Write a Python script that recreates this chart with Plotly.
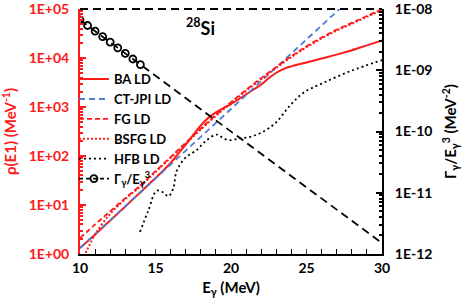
import plotly.graph_objects as go

# ---------------- data ----------------
E_BA = [10, 11, 12, 13, 14, 15, 15.5, 16, 16.5, 17, 17.5, 18, 18.5, 19, 19.5, 20, 21, 22, 22.5, 23, 23.5, 24, 25, 26, 27, 28, 29, 30]
rho_BA = [1.32, 2.5, 4.8, 9.3, 18.2, 35.5, 50, 72, 110, 170, 270, 420, 600, 780, 950, 1150, 1820, 2880, 3890, 5010, 6030, 6760, 8130, 9770, 11750, 14450, 18200, 22900]

E_CT = [10, 30]
rho_CT = [1.32, 6.3e5]

E_FG = [10, 11, 12, 13, 14, 15, 16, 17, 18, 19, 20, 21, 22, 23, 24, 25, 26, 27, 28, 29, 30]
rho_FG = [2.1, 4.0, 7.4, 13.8, 25, 49, 95, 186, 363, 692, 1260, 2240, 3890, 6610, 10960, 17380, 26300, 38020, 52480, 72440, 100000]

E_BSFG = [10, 10.5, 11, 12, 13, 14, 15, 16, 17, 18, 19, 20, 21, 22, 23, 24, 25, 26, 27, 28, 29, 30]
rho_BSFG = [0.63, 1.26, 2.5, 6.6, 13.2, 24, 47, 91, 178, 347, 660, 1200, 2140, 3720, 6310, 10470, 16600, 25120, 36310, 50120, 69180, 95500]

E_HFB = [13.97, 14.52, 15.08, 15.52, 15.85, 16.18, 16.4, 16.95, 17.72, 18.39, 19.05, 19.5, 19.93, 20.6, 21.26, 22.1, 23.0, 23.9, 24.8, 26.1, 27.9, 30.0]
rho_HFB = [2.8, 7.6, 19.5, 18, 15, 22, 49, 90, 132, 210, 274, 230, 210, 230, 245, 310, 490, 1070, 1960, 3100, 5400, 9100]

E_gam = [10, 10.5, 11, 11.5, 12, 12.5, 13, 13.5, 14]
gam_E3 = [6.65e-9, 5.40e-9, 4.38e-9, 3.55e-9, 2.88e-9, 2.33e-9, 1.89e-9, 1.53e-9, 1.24e-9]

E_fit = [10, 30]
fit_E3 = [6.65e-9, 1.5e-12]

x_ticks = [10, 15, 20, 25, 30]
left_ticks = [1, 10, 100, 1000, 10000, 100000]
left_labels = ["1E+00", "1E+01", "1E+02", "1E+03", "1E+04", "1E+05"]
right_ticks = [1e-12, 1e-11, 1e-10, 1e-9, 1e-8]
right_labels = ["1E-12", "1E-11", "1E-10", "1E-09", "1E-08"]

RED = "#ff1a1a"
BLUE = "#4a7fd4"
FONT = "Lato"
EPS = 2e-3

fig = go.Figure()

fig.add_trace(go.Scatter(x=E_BA, y=rho_BA, mode="lines", name="<b>BA LD</b>",
                         line=dict(color=RED, width=2), line_shape="spline"))
fig.add_trace(go.Scatter(x=E_CT, y=rho_CT, mode="lines", name="<b>CT-JPI LD</b>",
                         line=dict(color=BLUE, width=1.8, dash="6px,4px")))
fig.add_trace(go.Scatter(x=E_FG, y=rho_FG, mode="lines", name="<b>FG LD</b>",
                         line=dict(color=RED, width=1.8, dash="5px,3px"), line_shape="spline"))
fig.add_trace(go.Scatter(x=E_BSFG, y=rho_BSFG, mode="lines", name="<b>BSFG LD</b>",
                         line=dict(color=RED, width=2, dash="2px,2px"), line_shape="spline"))
fig.add_trace(go.Scatter(x=E_HFB, y=rho_HFB, mode="lines", name="<b>HFB LD</b>",
                         line=dict(color="black", width=1.8, dash="2px,3px"), line_shape="spline"))
# legend entry for Gamma/E^3
fig.add_trace(go.Scatter(x=[None], y=[None], mode="lines+markers", yaxis="y2",
                         name="<b>Γ<sub>γ</sub>/E<sub>γ</sub><sup>3</sup></b>",
                         line=dict(color="black", width=1.8, dash="4px,3px"),
                         marker=dict(symbol="circle-open", size=7, color="black", line=dict(width=1.8))))
fig.add_trace(go.Scatter(x=E_fit, y=fit_E3, mode="lines", yaxis="y2", showlegend=False,
                         line=dict(color="black", width=1.8, dash="8px,5px")))
fig.add_trace(go.Scatter(x=E_gam, y=gam_E3, mode="markers", yaxis="y2", showlegend=False,
                         marker=dict(symbol="circle-open", size=7, color="black", line=dict(width=1.8))))

fig.update_layout(
    width=463, height=306,
    margin=dict(l=80, r=81, t=9, b=52),
    paper_bgcolor="white", plot_bgcolor="white",
    font=dict(family=FONT, color="black", size=13),
    showlegend=True,
    legend=dict(x=-0.02, y=0.775, xanchor="left", yanchor="top",
                bgcolor="rgba(0,0,0,0)", font=dict(family=FONT, size=13, color="black"),
                itemwidth=30, tracegroupgap=0),
    xaxis=dict(range=[10, 30], tickvals=x_ticks, ticks="inside", ticklen=5, automargin=False,
               showline=True, linecolor="black", linewidth=2, showgrid=False, zeroline=False,
               tickfont=dict(family=FONT, size=14, color="black", weight="bold"),
               minor=dict(dtick=1, ticks="inside", ticklen=5, tickcolor="black"),
               title=dict(text="<b>E<sub>γ</sub> (MeV)</b>", font=dict(family=FONT, size=15), standoff=8)),
    yaxis=dict(type="log", range=[-EPS, 5 + EPS], tickvals=left_ticks, ticktext=left_labels,
               ticks="inside", ticklen=6, tickcolor=RED, tickwidth=1.5, automargin=False,
               showline=True, linecolor=RED, linewidth=2, showgrid=False, zeroline=False,
               ticklabelstandoff=6, ticklabeloverflow="allow",
               tickfont=dict(family=FONT, size=14, color=RED, weight="bold"),
               minor=dict(dtick="D1", ticks="inside", ticklen=3, tickcolor=RED, showgrid=False),
               title=dict(text="<b>ρ(E1) (MeV<sup>-1</sup>)</b>", font=dict(family=FONT, size=15, color=RED), standoff=8)),
    yaxis2=dict(type="log", range=[-12 - EPS, -8 + EPS], overlaying="y", side="right",
                tickvals=right_ticks, ticktext=right_labels, automargin=False,
                ticks="inside", ticklen=6, tickcolor="black", tickwidth=1.5,
                showline=True, linecolor="black", linewidth=2, showgrid=False, zeroline=False,
                ticklabelstandoff=8, ticklabeloverflow="allow",
                tickfont=dict(family=FONT, size=14, color="black", weight="bold"),
                minor=dict(dtick="D1", ticks="inside", ticklen=3, tickcolor="black", showgrid=False),
                title=dict(text="<b>Γ<sub>γ</sub>/E<sub>γ</sub><sup>3</sup> (MeV<sup>-2</sup>)</b>",
                           font=dict(family=FONT, size=15, color="black"), standoff=14)),
    shapes=[dict(type="line", xref="paper", yref="paper", x0=0, x1=1, y0=1, y1=1,
                 line=dict(color="black", width=2, dash="8px,5px"))],
    annotations=[dict(text="<b><sup>28</sup>Si</b>", xref="x", yref="paper", x=18.0, y=0.985,
                      yanchor="top", showarrow=False, font=dict(family=FONT, size=18, color="black"))],
)

fig.write_html("out.html", config={"displayModeBar": False},
               post_script="document.body.style.margin='0px';")
